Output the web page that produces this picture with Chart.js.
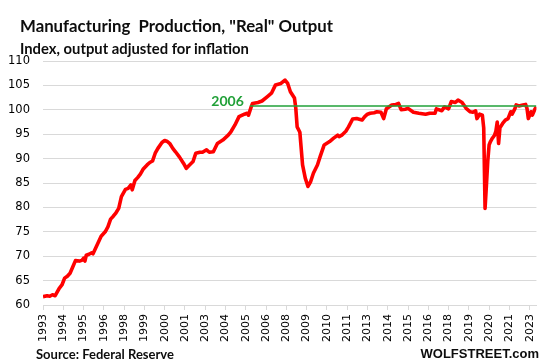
<!DOCTYPE html>
<html>
<head>
<meta charset="utf-8">
<script src="https://cdn.jsdelivr.net/npm/chart.js@4.4.0/dist/chart.umd.min.js"></script>
<style>
  body { margin: 0; background: #fff; }
  #wrap { position: relative; width: 547px; height: 364px; }
  .txt { position: absolute; white-space: pre; font-weight: bold; line-height: 1; color: #0d0d0d; }
  #title { left: 20px; top: 15px; font: bold 16.8px Lato, sans-serif; }
  #subtitle { left: 20px; top: 39px; font: bold 14.8px Lato, sans-serif; }
  #source { left: 36px; top: 346px; font: bold 13px Lato, sans-serif; }
  #brand { right: 8px; top: 346px; font: bold 13px "Liberation Sans", Arial, sans-serif; }
</style>
</head>
<body>
<div id="wrap">
  <canvas id="chart" width="547" height="364"></canvas>
  <div class="txt" id="title">Manufacturing  Production, "Real" Output</div>
  <div class="txt" id="subtitle">Index, output adjusted for inflation</div>
  <div class="txt" id="source">Source: Federal Reserve</div>
  <div class="txt" id="brand">WOLFSTREET.com</div>
</div>
<script>
// Monthly readings (year-month) of the index
const dates = [
  '1993-01','1993-04','1993-06','1993-08','1993-10','1994-01','1994-03','1994-05','1994-07','1994-09','1994-11',
  '1995-01','1995-04','1995-06','1995-07','1995-08','1995-09','1995-11','1996-01','1996-02','1996-05','1996-08','1996-11',
  '1997-01','1997-03','1997-05','1997-07','1997-09','1997-11','1998-02','1998-04','1998-06','1998-07','1998-09','1998-11',
  '1999-01','1999-03','1999-06','1999-08','1999-10','1999-12','2000-02','2000-05','2000-07','2000-09','2000-11',
  '2001-01','2001-03','2001-06','2001-09','2001-11','2002-01','2002-04','2002-06','2002-09','2002-11',
  '2003-02','2003-04','2003-07','2003-10','2004-02','2004-06','2004-08','2004-11','2005-02','2005-06','2005-08','2005-09','2005-11','2005-12',
  '2006-04','2006-07','2006-11','2007-02','2007-05','2007-09','2007-12','2008-02','2008-04','2008-07','2008-08','2008-09','2008-11',
  '2009-01','2009-03','2009-05','2009-07','2009-09','2009-12','2010-02','2010-05','2010-09','2010-12',
  '2011-03','2011-04','2011-06','2011-09','2011-11','2012-02','2012-05','2012-09','2012-11',
  '2013-01','2013-03','2013-06','2013-08','2013-11','2014-01','2014-03','2014-07','2014-10','2014-12',
  '2015-02','2015-05','2015-07','2015-11','2016-03','2016-08','2016-11','2017-03','2017-04','2017-08','2017-10',
  '2018-01','2018-03','2018-06','2018-08','2018-11','2019-02','2019-05','2019-07','2019-09','2019-10','2019-12',
  '2020-02','2020-03','2020-04','2020-05','2020-06','2020-07','2020-08','2020-09','2020-11','2020-12',
  '2021-01','2021-02','2021-03','2021-05','2021-07','2021-09','2021-11','2021-12',
  '2022-02','2022-03','2022-05','2022-08','2022-10','2022-11','2022-12','2023-02','2023-03','2023-05','2023-06'
];
const output = [
  61.7, 61.9, 61.8, 62.1, 61.9, 63.4, 64.1, 65.5, 65.9, 66.5, 67.8,
  69.1, 69.0, 69.2, 69.6, 69.0, 70.2, 70.4, 70.7, 70.5, 72.3, 74.1, 75.0,
  76.0, 77.6, 78.2, 78.9, 79.8, 82.2, 83.7, 83.9, 84.6, 83.6, 85.5, 86.1,
  86.8, 87.8, 88.7, 89.2, 89.5, 91.1, 92.1, 93.3, 93.7, 93.5, 93.0,
  92.1, 91.4, 90.3, 89.0, 88.0, 88.6, 89.4, 91.1, 91.3, 91.3,
  91.8, 91.3, 91.4, 93.1, 93.8, 94.8, 95.5, 96.9, 98.6, 99.1, 99.3, 98.9, 100.6, 101.3,
  101.5, 101.8, 102.7, 103.4, 105.1, 105.4, 106.1, 105.4, 103.7, 102.4, 100.3, 96.5, 95.4,
  88.7, 86.0, 84.3, 85.3, 87.0, 88.7, 90.4, 92.8, 93.5, 94.2,
  94.8, 94.5, 94.8, 95.6, 96.5, 98.1, 98.2, 97.9, 98.6,
  99.1, 99.3, 99.4, 99.6, 99.5, 98.2, 100.2, 101.0, 101.1, 101.3,
  100.0, 100.1, 100.3, 99.5, 99.3, 99.1, 99.3, 99.3, 100.2, 99.8, 100.6,
  100.2, 101.7, 101.5, 102.0, 101.5, 100.3, 99.6, 99.5, 99.8, 98.2, 99.1,
  98.9, 96.3, 79.8, 84.5, 89.5, 92.8, 93.5, 94.0, 94.8, 95.6,
  97.5, 93.1, 96.3, 97.2, 97.9, 98.2, 99.6, 99.1,
  100.2, 101.0, 100.8, 101.0, 101.1, 100.3, 98.2, 99.6, 98.9, 100.2, 100.6
];

// x-axis labels, one every 15 months starting Jan 1993
const tickLabels = ['1993','1994','1995','1996','1998','1999','2000','2001','2003','2004','2005','2006',
  '2008','2009','2010','2011','2013','2014','2015','2016','2018','2019','2020','2021','2023'];
const tickStep = 15;

// green 2006 reference level
const refLabel = '2006';
const refLevel = 100.8;
const refDates = ['2005-10', '2023-06'];

const monthIndex = d => (parseInt(d.slice(0, 4)) - 1993) * 12 + parseInt(d.slice(5, 7)) - 1;

const refLabelPlugin = {
  id: 'refLabel',
  afterDatasetsDraw(chart) {
    const { ctx, scales } = chart;
    const x = scales.x.getPixelForValue(monthIndex(refDates[0])) - 6;
    const y = scales.y.getPixelForValue(refLevel) + 0.5;
    ctx.save();
    ctx.font = 'bold 14px Lato, sans-serif';
    ctx.fillStyle = '#21a038';
    ctx.textAlign = 'right';
    ctx.textBaseline = 'alphabetic';
    ctx.fillText(refLabel, x, y);
    ctx.restore();
  }
};

new Chart(document.getElementById('chart'), {
  type: 'line',
  data: {
    datasets: [
      {
        data: dates.map((d, i) => ({ x: monthIndex(d), y: output[i] })),
        borderColor: '#ff0000',
        borderWidth: 3.6,
        borderJoinStyle: 'round',
        pointRadius: 0,
        tension: 0,
        order: 1
      },
      {
        data: refDates.map(d => ({ x: monthIndex(d), y: refLevel })),
        borderColor: '#21a038',
        borderWidth: 1.5,
        pointRadius: 0,
        order: 0
      }
    ]
  },
  options: {
    responsive: false,
    devicePixelRatio: 1,
    animation: false,
    layout: { padding: { top: 61, right: 9, left: 0, bottom: 0 } },
    plugins: { legend: { display: false }, tooltip: { enabled: false } },
    scales: {
      x: {
        type: 'linear',
        min: 0,
        max: 365,
        afterBuildTicks: s => { s.ticks = tickLabels.map((_, i) => ({ value: i * tickStep })); },
        afterFit: s => { s.height = 59; },
        ticks: {
          autoSkip: false,
          minRotation: 90,
          maxRotation: 90,
          padding: 4,
          color: '#000',
          font: { family: 'DejaVu Sans', size: 11 },
          callback: (v, i) => tickLabels[i]
        },
        grid: { drawOnChartArea: false, drawTicks: true, tickLength: 5, color: '#d9d9d9' },
        border: { color: '#d9d9d9', width: 1 }
      },
      y: {
        min: 60,
        max: 110,
        afterFit: s => { s.width = 43; },
        ticks: {
          stepSize: 5,
          padding: 13,
          color: '#000',
          font: { family: 'DejaVu Sans', size: 11.5 }
        },
        grid: { color: '#d9d9d9', drawTicks: false },
        border: { display: false }
      }
    }
  },
  plugins: [refLabelPlugin]
});
</script>
</body>
</html>
